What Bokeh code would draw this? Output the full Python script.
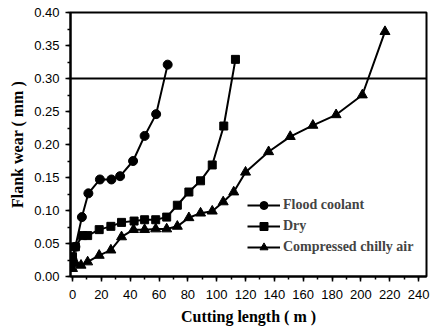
from bokeh.plotting import figure
from bokeh.models import Span, Legend, LegendItem, FixedTicker, Range1d
from bokeh.embed import file_html
from bokeh.resources import INLINE

flood_x = [0, 2, 6.5, 11, 19, 27, 33, 42, 50, 58, 66]
flood_y = [0.025, 0.045, 0.090, 0.126, 0.147, 0.147, 0.152, 0.175, 0.213, 0.246, 0.321]

dry_x = [0, 2, 7, 10.5, 18.5, 26.6, 34, 42.7, 50, 57.7, 65.3, 72.7, 80.7, 88.8, 96.9, 104.9, 113]
dry_y = [0.030, 0.045, 0.062, 0.062, 0.071, 0.076, 0.082, 0.084, 0.086, 0.086, 0.090, 0.108, 0.128, 0.145, 0.169, 0.228, 0.329]

air_x = [0, 2.4, 5.9, 10.5, 18.5, 26.6, 34, 42.3, 50, 57.7, 65.3, 72.7, 80.7, 88.8, 96.9, 104.5, 111.8, 120, 136, 151, 166.7, 182.8, 201, 216.7]
air_y = [0.012, 0.019, 0.017, 0.022, 0.032, 0.040, 0.060, 0.071, 0.071, 0.072, 0.072, 0.076, 0.089, 0.096, 0.099, 0.113, 0.128, 0.158, 0.189, 0.212, 0.229, 0.245, 0.275, 0.371]

x_ticks = list(range(0, 241, 20))
y_ticks = [0.0, 0.05, 0.10, 0.15, 0.20, 0.25, 0.30, 0.35, 0.40]
y_labels = {v: f"{v:.2f}" for v in y_ticks}
limit = 0.30

p = figure(width=433, height=334, output_backend="svg", toolbar_location=None,
           x_range=Range1d(-1.4, 245.5), y_range=Range1d(0, 0.40),
           min_border_left=70, min_border_right=7, min_border_top=12, min_border_bottom=58)

p.grid.visible = False
p.outline_line_color = "black"
p.outline_line_width = 2
p.background_fill_color = "white"
p.border_fill_color = "white"

LW = 2
r1 = p.line(flood_x, flood_y, line_color="black", line_width=LW)
m1 = p.scatter(flood_x, flood_y, marker="circle", size=9, color="black")
r2 = p.line(dry_x, dry_y, line_color="black", line_width=LW)
m2 = p.scatter(dry_x, dry_y, marker="square", size=8, color="black")
r3 = p.line(air_x, air_y, line_color="black", line_width=LW)
m3 = p.scatter(air_x, air_y, marker="triangle", size=10, color="black")

p.add_layout(Span(location=limit, dimension="width", line_color="black", line_width=2))

for ax in (p.xaxis[0], p.yaxis[0]):
    ax.axis_line_color = "black"
    ax.axis_line_width = 2
    ax.major_tick_line_color = "black"
    ax.minor_tick_line_color = "black"
    ax.major_tick_line_width = 1.5
    ax.minor_tick_line_width = 1.5
    ax.major_tick_in = 0
    ax.major_tick_out = 5
    ax.minor_tick_in = 0
    ax.minor_tick_out = 3
    ax.major_label_text_font = "Liberation Sans"
    ax.major_label_text_font_size = "13px"
    ax.major_label_text_color = "black"
    ax.axis_label_text_font = "Liberation Serif"
    ax.axis_label_text_font_style = "bold"
    ax.axis_label_text_font_size = "16px"
    ax.axis_label_text_color = "black"

p.xaxis[0].ticker = FixedTicker(ticks=x_ticks, minor_ticks=list(range(0, 241, 10)))
p.yaxis[0].ticker = FixedTicker(ticks=y_ticks, minor_ticks=[i * 0.025 for i in range(17)])
p.yaxis[0].major_label_overrides = y_labels
p.xaxis[0].axis_label = "Cutting length ( m )"
p.yaxis[0].axis_label = "Flank wear ( mm )"
p.xaxis[0].major_label_standoff = 8
p.yaxis[0].major_label_standoff = 6
p.xaxis[0].axis_label_standoff = 6
p.yaxis[0].axis_label_standoff = 5

legend = Legend(items=[
    LegendItem(label="Flood coolant", renderers=[r1, m1]),
    LegendItem(label="Dry", renderers=[r2, m2]),
    LegendItem(label="Compressed chilly air", renderers=[r3, m3]),
], location=(177, 19))
legend.border_line_alpha = 0
legend.background_fill_alpha = 0
legend.padding = 0
legend.margin = 0
legend.spacing = 1
legend.glyph_width = 33
legend.glyph_height = 20
legend.label_standoff = 3
legend.label_text_font = "Liberation Serif"
legend.label_text_font_style = "bold"
legend.label_text_font_size = "14px"
p.add_layout(legend)

open("out.html", "w").write(file_html(p, INLINE))
